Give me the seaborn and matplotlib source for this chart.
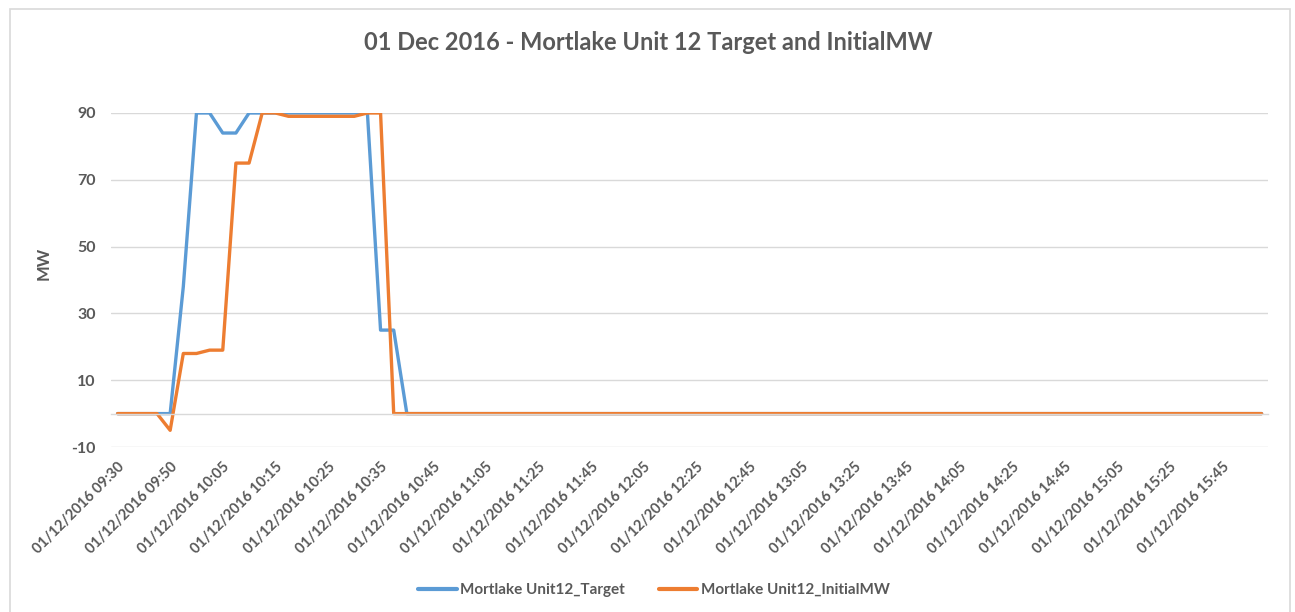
import pandas as pd
import matplotlib
matplotlib.use("Agg")
import matplotlib.pyplot as plt
import seaborn as sns
from matplotlib.patches import Rectangle

# Data: dispatch intervals, some repeated
times = ["09:30", "09:35", "09:40", "09:45", "09:50", "09:55", "10:00", "10:00",
         "10:05", "10:05", "10:10", "10:10", "10:15", "10:15", "10:20", "10:20",
         "10:25", "10:25", "10:30", "10:30", "10:35", "10:35", "10:40", "10:40",
         "10:45", "10:50", "10:55", "11:00", "11:05", "11:10", "11:15", "11:20",
         "11:25", "11:30", "11:35", "11:40", "11:45", "11:50", "11:55", "12:00",
         "12:05", "12:10", "12:15", "12:20", "12:25", "12:30", "12:35", "12:40",
         "12:45", "12:50", "12:55", "13:00", "13:05", "13:10", "13:15", "13:20",
         "13:25", "13:30", "13:35", "13:40", "13:45", "13:50", "13:55", "14:00",
         "14:05", "14:10", "14:15", "14:20", "14:25", "14:30", "14:35", "14:40",
         "14:45", "14:50", "14:55", "15:00", "15:05", "15:10", "15:15", "15:20",
         "15:25", "15:30", "15:35", "15:40", "15:45", "15:50", "15:55", "16:00"]
labels = ["01/12/2016 " + t for t in times]

target = [0, 0, 0, 0, 0, 38, 90, 90, 84, 84, 90, 90, 90, 90, 90, 90,
          90, 90, 90, 90, 25, 25, 0, 0,
          0, 0, 0, 0, 0, 0, 0, 0, 0, 0, 0, 0, 0, 0, 0, 0, 0, 0, 0, 0, 0, 0, 0, 0,
          0, 0, 0, 0, 0, 0, 0, 0, 0, 0, 0, 0, 0, 0, 0, 0, 0, 0, 0, 0, 0, 0, 0, 0,
          0, 0, 0, 0, 0, 0, 0, 0, 0, 0, 0, 0, 0, 0, 0, 0]
initial_mw = [0, 0, 0, 0, -5, 18, 18, 19, 19, 75, 75, 90, 90, 89, 89, 89,
              89, 89, 89, 90, 90, 0, 0, 0,
              0, 0, 0, 0, 0, 0, 0, 0, 0, 0, 0, 0, 0, 0, 0, 0, 0, 0, 0, 0, 0, 0, 0, 0,
              0, 0, 0, 0, 0, 0, 0, 0, 0, 0, 0, 0, 0, 0, 0, 0, 0, 0, 0, 0, 0, 0, 0, 0,
              0, 0, 0, 0, 0, 0, 0, 0, 0, 0, 0, 0, 0, 0, 0, 0]

series_names = ["Mortlake Unit12_Target", "Mortlake Unit12_InitialMW"]
colors = ["#5B9BD5", "#ED7D31"]
text_color = "#595959"
grid_color = "#D9D9D9"

n = len(times)
df = pd.concat([
    pd.DataFrame({"idx": range(n), "MW": target, "series": series_names[0]}),
    pd.DataFrame({"idx": range(n), "MW": initial_mw, "series": series_names[1]}),
])

sns.set_style("white")
plt.rcParams['font.family'] = ['Lato', 'DejaVu Sans']
plt.rcParams['axes.unicode_minus'] = False

fig = plt.figure(figsize=(12.95, 6.12), dpi=100)
ax = fig.add_axes([0.0857, 0.2696, 0.8936, 0.5458])

sns.lineplot(data=df, x="idx", y="MW", hue="series", palette=colors,
             linewidth=2.4, ax=ax, legend=True)

ax.set_xlim(-0.5, n - 0.5)
ax.set_ylim(-10, 90)
ax.set_yticks([-10, 10, 30, 50, 70, 90])
ax.yaxis.grid(True, color=grid_color, linewidth=1)
ax.set_axisbelow(True)

for s in ["top", "right", "left"]:
    ax.spines[s].set_visible(False)
ax.spines["bottom"].set_position(("data", 0))
ax.spines["bottom"].set_color(grid_color)
ax.spines["bottom"].set_linewidth(1)

# category boundary ticks on the zero line, labels every 4th category
ax.set_xticks([i - 0.5 for i in range(n + 1)], minor=True)
ax.set_xticks(list(range(0, n, 4)))
ax.set_xticklabels([labels[i] for i in range(0, n, 4)], rotation=45, ha="right",
                   rotation_mode="anchor", fontsize=10.5, fontweight="bold", color=text_color)
ax.tick_params(axis="x", which="minor", length=4, color=grid_color, direction="out", width=1)
ax.tick_params(axis="x", which="major", length=0, pad=33)
ax.tick_params(axis="y", length=0, pad=11, labelsize=11.5, labelcolor=text_color)
for t in ax.get_yticklabels():
    t.set_fontweight("bold")

ax.set_xlabel("")
ax.set_ylabel("MW", fontsize=12, fontweight="bold", color=text_color)
ax.yaxis.set_label_coords(-0.051, 0.55)

ax.get_legend().remove()
handles, lbls = ax.get_legend_handles_labels()
leg = fig.legend(handles, lbls, loc="center", bbox_to_anchor=(0.505, 0.036), ncol=2,
                 frameon=False, handlelength=2.5, handletextpad=0.25, columnspacing=2.2,
                 prop={"size": 11, "weight": "bold"})
for t in leg.get_texts():
    t.set_color(text_color)
for l in leg.get_lines():
    l.set_linewidth(3)

fig.text(0.5008, 0.931, "01 Dec 2016 - Mortlake Unit 12 Target and InitialMW",
         ha="center", va="center", fontsize=17, fontweight="bold", color=text_color)

fig.patches.append(Rectangle((0.0077, -0.01), 0.9885, 0.995, transform=fig.transFigure,
                             fill=False, edgecolor=grid_color, linewidth=1.2))

fig.savefig("out.png", dpi=100)
